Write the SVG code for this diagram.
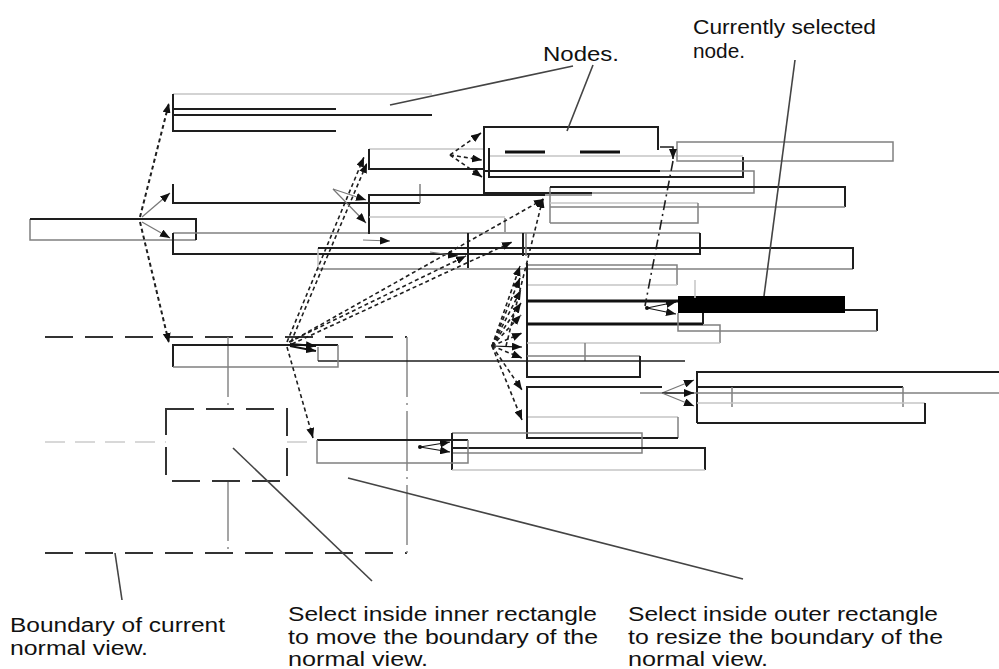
<svg xmlns="http://www.w3.org/2000/svg" width="999" height="669" viewBox="0 0 999 669">
<defs>
<style>
.d{fill:none;stroke:#1e1e1e;stroke-width:2}
.t{fill:none;stroke:#111;stroke-width:3.2}
.m{fill:none;stroke:#808080;stroke-width:1.5}
.l{fill:none;stroke:#c4c4c4;stroke-width:1.5}
.cd{fill:none;stroke:#1e1e1e;stroke-width:1.6;stroke-dasharray:4 3;marker-end:url(#ah)}
.cs{fill:none;stroke:#777;stroke-width:1.2;marker-end:url(#ah)}
.cdd{fill:none;stroke:#1e1e1e;stroke-width:1.6;stroke-dasharray:10 4 2 4}
.ld{fill:none;stroke:#444;stroke-width:1.6}
.bd{fill:none;stroke:#333;stroke-width:2;stroke-dasharray:28 12}
.bg{fill:none;stroke:#888;stroke-width:1.5;stroke-dasharray:60 6 2 6}
.bl{fill:none;stroke:#ccc;stroke-width:1.5;stroke-dasharray:20 10}
text{font-family:"Liberation Sans",Arial,sans-serif;font-size:20px;fill:#111}
</style>
<marker id="ah" viewBox="0 0 10 8" refX="10" refY="4" markerWidth="10" markerHeight="8" markerUnits="userSpaceOnUse" orient="auto">
<path d="M0,0 L10,4 L0,8 z" fill="#111"/>
</marker>
</defs>
<rect width="999" height="669" fill="#fff"/>

<!-- view boundary overlay -->
<g id="view-boundary">
<path class="bd" d="M45 337 H407 M45 553 H407"/>
<path class="bg" d="M407 337 V553 M228 337 V409 M228 481 V553"/>
<path class="bl" d="M45 442 H166 M287 442 H312"/>
<rect class="bd" x="166" y="409" width="121" height="72"/>
</g>

<!-- nodes -->
<g id="n-root"><path class="m" d="M30 219 V240 H196"/><path class="d" d="M30 219 H196 V240"/></g>
<g id="n1"><path class="l" d="M173 94 H432"/><path class="d" d="M173 94 V115 H432"/></g>
<g id="n2"><path class="d" d="M336 109 H173 V131 H336"/></g>
<g id="n3"><path class="d" d="M173 184 V203 H420"/><path class="m" d="M420 184 V203"/></g>
<g id="n4"><path class="m" d="M173 233 H700"/><path class="d" d="M173 233 V254 H700 V233"/></g>
<g id="n5"><path class="l" d="M318 248 V269"/><path class="m" d="M318 269 H853"/><path class="d" d="M318 248 H853 V269"/></g>
<g id="n6"><path class="l" d="M369 149 H484"/><path class="d" d="M369 149 V169 H484"/></g>
<g id="n7"><path class="d" d="M369 234 V195 H545"/><path class="m" d="M545 195 H592"/></g>
<g id="n7b"><path class="l" d="M369 217 H505"/><path class="m" d="M505 218 V232"/></g>
<g id="n8"><path class="d" d="M484 171 V127 H658 V150"/><path class="d" d="M484 171 H660"/></g>
<g id="n9"><path class="l" d="M489 156 H743"/><path class="d" d="M489 148 V177 H743 V157"/></g>
<g id="n10"><path class="d" d="M484 171 V193 H592"/><path class="m" d="M660 171 H754 V193 H592"/></g>
<g id="n11"><rect class="m" x="677" y="142" width="216" height="19"/></g>
<g id="n12"><path class="m" d="M550 223 V187"/><path class="d" d="M550 187 H845 V207"/><path class="m" d="M550 207 H845"/></g>
<g id="n13"><path class="l" d="M550 203 H698"/><path class="m" d="M698 203 V223 H550"/></g>
<g id="n14"><path class="d" d="M468 233 V268"/></g>
<g id="n15"><path class="d" d="M523 233 V256"/><path class="m" d="M526 233 V256"/></g>
<g id="n-e"><path class="m" d="M527 265 H677 V285"/><path class="l" d="M527 285 H677"/><path class="d" d="M527 263 V378"/></g>
<g id="n-f"><path class="t" d="M527 301 H678 M527 324 H703"/><path class="d" d="M703 313 V324"/></g>
<g id="n-g"><path class="m" d="M703 325 H720 V343"/><path class="l" d="M527 343 H720"/></g>
<g id="n-h"><path class="m" d="M527 356 H640"/><path class="d" d="M640 356 V377 H527"/></g>
<g id="n-i"><path class="m" d="M318 347 V361 M585 343 V361"/><path class="d" d="M318 361 H685" style="stroke-width:1.5"/></g>
<g id="n-selected"><rect x="678" y="296" width="167" height="17" fill="#000"/></g>
<g id="n-s2"><path class="d" d="M845 310 H877 V331"/><path class="m" d="M678 313 V331 H877"/><path class="l" d="M695 280 V298"/></g>
<g id="n-j"><path class="d" d="M662 387 H527 V407"/></g>
<g id="n-k1"><path class="d" d="M697 423 V372 H999"/><path class="m" d="M640 393 H999"/></g>
<g id="n-k2"><path class="d" d="M697 387 H903"/><path class="m" d="M732 387 V407 M903 387 V407"/></g>
<g id="n-k3"><path class="l" d="M697 403 H925"/><path class="d" d="M925 403 V423 H697"/></g>
<g id="n-l"><path class="l" d="M527 417 H678"/><path class="m" d="M678 417 V438"/><path class="d" d="M527 400 V438 H678"/></g>
<g id="n-m"><path class="m" d="M452 433 H642 V453 H452"/></g>
<g id="n-n"><path class="d" d="M452 433 V470 M452 448 H705 V470"/><path class="l" d="M452 470 H705"/></g>
<g id="n-o"><path class="d" d="M317 440 H468"/><path class="m" d="M317 440 V463 H468 V440"/></g>
<g id="n-b"><path class="d" d="M338 345 H173 V367"/><path class="m" d="M173 367 H338 V345"/></g>

<!-- connectors -->
<g id="connectors">
<path class="cd" style="stroke-width:2" d="M140 217 L169 103"/>
<path class="cs" d="M142 217 L170 193"/>
<path class="cs" d="M142 222 L170 238"/>
<path class="cd" style="stroke-width:2" d="M140 222 L169 343"/>
<path class="cd" d="M287 342 L364 157"/>
<path class="cd" d="M291 342 L367 163"/>
<path class="cs" d="M333 189 L366 200"/>
<path class="cs" d="M333 189 L366 223"/>
<path class="cd" d="M289 342 L466 256"/>
<path class="cd" d="M292 344 L512 242"/>
<path class="cd" d="M290 342 L544 199"/>
<path class="cd" d="M287 347 L313 438"/>
<path class="cs" style="stroke:#111;stroke-width:2" d="M290 344 L316 346"/>
<path class="cs" style="stroke:#111;stroke-width:2" d="M290 346 L316 351"/>
<path class="cs" d="M363 240 L390 241"/>
<path class="cs" d="M430 252 L458 256"/>
<path class="cd" d="M450 155 L481 133"/>
<path class="cd" d="M450 155 L482 160"/>
<path class="cd" d="M450 155 L482 177"/>
<path class="cd" d="M492 346 L520 266"/>
<path class="cd" d="M492 346 L520 278"/>
<path class="cd" d="M492 346 L521 290"/>
<path class="cd" d="M492 346 L521 303"/>
<path class="cd" d="M492 346 L521 315"/>
<path class="cd" d="M492 346 L522 333"/>
<path class="cs" style="stroke:#111" d="M492 346 L522 347"/>
<path class="cd" d="M492 346 L522 358"/>
<path class="cd" d="M492 346 L522 390"/>
<path class="cd" d="M492 346 L522 420"/>
<path class="cd" d="M506 346 L543 198"/>
<path fill="none" stroke="#111" stroke-width="3" stroke-dasharray="40 35" d="M505 152 H650"/>
<path class="cd" style="stroke-dasharray:none" d="M660 147 H673 V159"/>
<path class="cdd" d="M673 161 L645 306"/>
<circle cx="647" cy="308" r="2" fill="#111"/>
<path class="cs" style="stroke:#111" d="M647 308 L676 302"/>
<path class="cs" style="stroke:#111" d="M647 308 L676 314"/>
<path class="cs" d="M662 393 L694 380"/>
<path class="cs" style="stroke:#111" d="M662 393 L694 393"/>
<path class="cs" d="M662 393 L694 406"/>
<circle cx="420" cy="447" r="2" fill="#111"/>
<path class="cs" style="stroke:#111" d="M420 447 L450 442"/>
<path class="cs" style="stroke:#111" d="M420 447 L450 452"/>
</g>

<!-- annotation leaders -->
<g id="leaders">
<path class="ld" d="M573 66 L390 105"/>
<path class="ld" d="M593 65 L567 131"/>
<path class="ld" d="M795 60 L764 296"/>
<path class="ld" d="M115 553 L122 600"/>
<path class="ld" d="M233 448 L372 581"/>
<path class="ld" d="M348 478 L743 579"/>
</g>

<g id="labels">
<text x="543" y="61" textLength="76" lengthAdjust="spacingAndGlyphs">Nodes.</text>
<text x="693" y="34" textLength="183" lengthAdjust="spacingAndGlyphs">Currently selected</text>
<text x="693" y="58" textLength="52" lengthAdjust="spacingAndGlyphs">node.</text>
<text x="10" y="632" textLength="215" lengthAdjust="spacingAndGlyphs">Boundary of current</text>
<text x="10" y="655" textLength="138" lengthAdjust="spacingAndGlyphs">normal view.</text>
<text x="288" y="621" textLength="309" lengthAdjust="spacingAndGlyphs">Select inside inner rectangle</text>
<text x="288" y="644" textLength="310" lengthAdjust="spacingAndGlyphs">to move the boundary of the</text>
<text x="288" y="666" textLength="140" lengthAdjust="spacingAndGlyphs">normal view.</text>
<text x="628" y="621" textLength="310" lengthAdjust="spacingAndGlyphs">Select inside outer rectangle</text>
<text x="628" y="644" textLength="315" lengthAdjust="spacingAndGlyphs">to resize the boundary of the</text>
<text x="628" y="666" textLength="140" lengthAdjust="spacingAndGlyphs">normal view.</text>
</g>
</svg>
